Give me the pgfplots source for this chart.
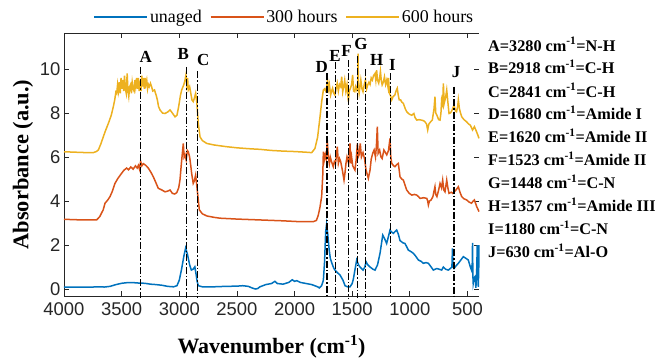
\documentclass[border=0pt]{standalone}
\usepackage{pgfplots}
\pgfplotsset{compat=1.18}
\usepackage{fontspec}
\setmainfont{Liberation Serif}
\newfontfamily\axisfont{Liberation Sans}
\definecolor{cBlue}{RGB}{0,114,189}
\definecolor{cOrange}{RGB}{217,83,25}
\definecolor{cYellow}{RGB}{237,177,32}
\definecolor{axgray}{RGB}{38,38,38}
\tikzset{ddot/.style={black, line width=1.4bp, dash pattern=on 7bp off 2bp on 1.5bp off 2bp}}
\begin{document}
\begin{tikzpicture}
\begin{axis}[
  scale only axis, width=415bp, height=263bp,
  xmin=400, xmax=4000, x dir=reverse,
  ymin=-0.318, ymax=11.64,
  xtick={500,1000,1500,2000,2500,3000,3500,4000},
  ytick={0,2,4,6,8,10},
  tick align=inside,
  major tick length=5bp,
  every tick/.style={axgray, line width=0.8bp},
  /pgf/number format/assume math mode=true,
  /pgf/number format/1000 sep={},
  ticklabel style={font=\axisfont\fontsize{18.5}{18.5}\selectfont, text=axgray},
  xticklabel style={yshift=-3bp},
  axis line style={draw=none},
  clip=false,
  xlabel={Wavenumber (cm\textsuperscript{-1})},
  xlabel style={font=\bfseries\fontsize{22}{22}\selectfont, at={(axis description cs:0.5,-0.217)}, anchor=base, inner sep=0pt},
  ylabel={Absorbance (a.u.)},
  ylabel style={font=\bfseries\fontsize{22.5}{22.5}\selectfont, at={(axis description cs:-0.099,0.5)}, anchor=center, inner sep=0pt},
  legend columns=3,
  legend style={at={(axis description cs:0.531,1.061)}, anchor=center, draw=none, fill=none,
    font=\fontsize{18}{18}\selectfont, /tikz/every even column/.append style={column sep=6bp}},
  legend image code/.code={\draw[#1] (0bp,0bp) -- (53bp,0bp);},
  every axis plot/.append style={line width=1.5bp},
]
\coordinate (bl) at (axis description cs:0,0);
\coordinate (tr) at (axis description cs:1,1);
\draw[axgray, line width=0.8bp] (axis description cs:1,1) -- (axis description cs:0,1) -- (axis description cs:0,0) -- (axis description cs:1,0);

\addplot[cBlue] coordinates {
(4000,0.08) (3900,0.09) (3800,0.08) (3700,0.1) (3650,0.09) (3600,0.12) (3550,0.2) (3500,0.26)
(3450,0.29) (3400,0.29) (3350,0.27) (3300,0.26) (3250,0.22) (3200,0.2) (3150,0.17) (3100,0.12)
(3050,0.1) (3020,0.15) (3000,0.4) (2980,0.9) (2960,1.5) (2945,1.86) (2930,1.6) (2910,1.1)
(2895,0.86) (2880,0.9) (2865,1.01) (2855,0.7) (2845,0.35) (2835,0.15) (2800,0.1) (2700,0.1)
(2600,0.12) (2500,0.13) (2450,0.15) (2400,0.12) (2370,0.05) (2340,0.0) (2320,0.02) (2300,0.1)
(2250,0.2) (2200,0.25) (2170,0.35) (2150,0.25) (2100,0.22) (2050,0.3) (2020,0.42) (2000,0.35)
(1980,0.38) (1950,0.3) (1900,0.25) (1850,0.2) (1800,0.1) (1785,0.05) (1765,0.15) (1750,0.4)
(1740,1.2) (1730,2.6) (1722,2.95) (1712,2.5) (1700,1.8) (1690,1.4) (1678,1.2) (1660,0.95)
(1649,0.86) (1630,0.75) (1606,0.64) (1580,0.4) (1562,0.15) (1540,0.1) (1519,0.1) (1500,0.25)
(1490,0.45) (1475,0.9) (1461,1.32) (1445,1.1) (1432,1.0) (1406,0.86) (1390,1.0) (1380,1.24)
(1365,1.1) (1345,1.0) (1320,0.9) (1302,0.86) (1280,1.1) (1258,1.64) (1245,2.1) (1235,2.45)
(1220,2.3) (1201,2.07) (1185,2.4) (1172,2.68) (1160,2.6) (1143,2.53) (1130,2.6) (1114,2.68)
(1100,2.5) (1085,2.2) (1060,2.1) (1042,2.07) (1025,1.9) (1013,1.77) (990,1.7) (969,1.62)
(950,1.5) (926,1.32) (900,1.25) (883,1.17) (860,1.2) (839,1.17) (815,1.0) (796,0.86)
(780,0.9) (767,0.93) (745,0.9) (724,0.86) (709,1.0) (690,0.9) (666,0.86) (645,0.95)
(635,1.0) (630,1.85) (625,1.0) (617,0.93) (600,1.05) (579,1.17) (560,1.3) (536,1.47)
(515,1.4) (493,1.32) (475,1.0) (465,0.86) (458,1.2) (456,2.1) (453,0.6) (450,0.25)
(442,0.5) (436,0.55) (430,0.3) (427,0.05) (420,0.8) (415,2.0) (410,0.6) (406,0.1)
(402,1.0) (400,2.0)
};
\addlegendentry{unaged}

\addplot[cOrange] coordinates {
(4000,3.17) (3900,3.15) (3800,3.14) (3717,3.14) (3690,3.29) (3660,3.6) (3644,3.9) (3620,4.05)
(3601,4.2) (3580,4.45) (3558,4.8) (3530,5.05) (3500,5.26) (3480,5.4) (3456,5.5) (3440,5.42)
(3420,5.55) (3400,5.45) (3380,5.6) (3365,5.5) (3355,5.62) (3345,5.45) (3335,5.8) (3325,5.6)
(3312,5.7) (3290,5.62) (3269,5.5) (3245,5.3) (3225,5.1) (3200,4.8) (3182,4.58) (3150,4.5)
(3124,4.42) (3100,4.45) (3080,4.5) (3060,4.35) (3040,4.32) (3022,4.38) (3005,4.6) (2994,4.95)
(2980,5.8) (2965,6.62) (2958,6.0) (2950,6.1) (2940,5.87) (2930,6.3) (2922,6.24) (2910,6.0)
(2900,5.6) (2893,5.27) (2879,4.8) (2870,4.9) (2858,5.18) (2850,4.8) (2840,4.3) (2826,3.6)
(2800,3.42) (2760,3.32) (2700,3.26) (2647,3.22) (2500,3.18) (2300,3.14) (2100,3.1) (1950,3.06)
(1883,3.06) (1838,3.06) (1810,3.12) (1794,3.36) (1780,3.7) (1765,4.2) (1755,5.2) (1750,6.24)
(1742,5.87) (1734,6.1) (1725,5.9) (1716,6.77) (1707,6.0) (1698,5.7) (1690,6.0) (1680,5.8)
(1664,5.56) (1655,5.79) (1645,5.7) (1636,6.1) (1629,6.47) (1620,5.71) (1610,5.93) (1600,5.8)
(1585,5.4) (1571,4.95) (1562,5.3) (1554,5.71) (1545,6.0) (1530,5.7) (1519,6.62) (1512,5.71)
(1505,6.0) (1495,5.6) (1476,5.41) (1465,5.9) (1455,6.62) (1448,6.0) (1440,6.1) (1430,6.62)
(1420,6.0) (1406,6.2) (1392,5.9) (1380,5.41) (1360,5.03) (1345,5.41) (1335,5.9) (1322,6.17)
(1310,6.32) (1298,6.0) (1290,6.5) (1282,7.38) (1275,6.17) (1262,6.32) (1250,6.0) (1240,5.93)
(1225,6.32) (1200,6.1) (1185,6.3) (1172,6.85) (1165,6.0) (1157,5.71) (1140,5.6) (1129,5.56)
(1115,5.65) (1100,5.71) (1092,5.4) (1085,5.1) (1070,5.0) (1056,4.95) (1040,4.7) (1027,4.5)
(1005,4.35) (983,4.27) (960,4.3) (940,4.27) (925,4.2) (911,4.12) (880,4.15) (853,4.12)
(845,4.0) (839,3.82) (830,4.0) (815,4.05) (800,4.2) (782,4.65) (775,4.3) (765,4.2)
(750,4.5) (738,4.8) (725,4.6) (715,4.95) (705,4.5) (695,4.42) (680,4.95) (670,4.6)
(660,4.35) (640,4.4) (628,4.35) (615,4.42) (600,4.5) (579,4.65) (565,4.4) (550,4.2)
(530,4.1) (507,4.05) (485,3.95) (465,3.9) (450,4.0) (440,4.05) (420,3.75) (400,3.52)
};
\addlegendentry{300 hours}

\addplot[cYellow] coordinates {
(4000,6.24) (3900,6.22) (3800,6.2) (3746,6.2) (3720,6.25) (3702,6.32) (3680,6.6) (3659,6.92)
(3640,7.2) (3615,7.53) (3590,7.9) (3572,8.29) (3560,8.6) (3550,8.95) (3543,8.89) (3535,9.3)
(3528,9.0) (3520,9.4) (3512,8.9) (3505,9.6) (3498,9.1) (3490,9.5) (3482,9.0) (3475,9.7)
(3468,9.1) (3460,8.9) (3452,9.8) (3445,9.0) (3438,8.75) (3430,9.2) (3422,9.3) (3415,8.9)
(3408,9.4) (3400,9.1) (3392,9.0) (3385,9.5) (3378,9.2) (3370,9.6) (3362,9.1) (3355,9.6)
(3348,9.0) (3340,9.3) (3332,9.0) (3325,9.7) (3318,9.2) (3310,9.6) (3303,9.1) (3297,9.6)
(3290,9.3) (3282,9.5) (3275,9.1) (3268,9.3) (3260,9.2) (3250,9.35) (3240,9.2) (3230,9.0)
(3215,9.05) (3200,8.8) (3190,8.6) (3180,8.3) (3167,8.14) (3145,8.0) (3124,7.98) (3100,8.05)
(3080,8.14) (3060,8.0) (3037,7.83) (3020,7.9) (3005,8.3) (2990,8.8) (2979,9.05) (2960,9.3)
(2950,9.5) (2942,9.73) (2935,9.3) (2928,9.6) (2922,9.05) (2910,9.2) (2900,8.9) (2890,8.6)
(2879,8.52) (2868,8.7) (2858,8.9) (2848,8.5) (2840,7.9) (2835,7.53) (2820,6.92) (2800,6.75)
(2762,6.62) (2700,6.55) (2589,6.47) (2500,6.42) (2400,6.38) (2300,6.35) (2200,6.3) (2100,6.27)
(2000,6.25) (1900,6.22) (1851,6.2) (1823,6.39) (1800,6.9) (1779,7.83) (1765,8.5) (1750,9.05)
(1740,9.1) (1730,9.0) (1721,9.2) (1714,9.5) (1705,9.1) (1698,9.3) (1687,8.82) (1678,9.0)
(1670,9.13) (1660,8.9) (1650,8.82) (1640,9.1) (1630,9.36) (1620,9.0) (1610,9.3) (1600,9.2)
(1591,9.65) (1582,8.97) (1574,9.2) (1565,9.5) (1555,9.0) (1545,9.3) (1533,8.52) (1525,9.0)
(1515,9.13) (1505,9.3) (1496,9.73) (1488,9.0) (1478,8.97) (1470,9.2) (1460,9.05) (1452,9.3)
(1449,10.7) (1446,9.2) (1440,8.9) (1432,9.2) (1425,9.5) (1415,9.1) (1406,8.97) (1395,9.3)
(1385,9.5) (1375,9.1) (1365,9.28) (1355,9.4) (1345,9.3) (1335,9.6) (1325,9.5) (1315,9.7)
(1302,9.8) (1295,9.5) (1288,9.95) (1280,9.5) (1270,9.36) (1262,9.6) (1255,9.9) (1248,9.5)
(1240,9.28) (1230,9.4) (1220,9.65) (1210,9.3) (1200,9.5) (1190,9.2) (1185,9.6) (1177,8.9)
(1168,8.8) (1157,8.6) (1145,8.75) (1130,8.82) (1120,9.0) (1109,9.13) (1100,8.8) (1092,8.6)
(1080,8.6) (1070,8.5) (1056,8.44) (1040,8.2) (1027,8.06) (1005,7.95) (983,7.9) (965,7.98)
(955,7.8) (940,7.68) (920,7.7) (900,7.68) (880,7.65) (868,7.6) (855,7.5) (845,7.23)
(835,7.5) (820,7.6) (805,7.68) (790,8.2) (782,8.74) (775,8.0) (765,7.9) (750,7.7)
(738,7.68) (730,8.0) (724,8.6) (715,8.4) (709,9.35) (702,8.44) (690,8.7) (680,9.05)
(670,8.5) (660,7.98) (650,8.0) (640,8.06) (628,8.2) (617,8.36) (605,8.1) (595,8.06)
(585,8.3) (579,8.6) (570,8.2) (560,8.0) (550,7.83) (530,7.7) (507,7.6) (490,7.5)
(475,7.45) (456,7.23) (440,7.38) (425,7.2) (410,7.0) (400,6.85)
};
\addlegendentry{600 hours}

% peak marker lines
\addplot[ddot, forget plot] coordinates {(3335,10.1) (3335,-0.4)};
\addplot[ddot, forget plot] coordinates {(2935,10.1) (2935,-0.4)};
\addplot[ddot, forget plot] coordinates {(2843,9.9) (2843,-0.4)};
\addplot[ddot, forget plot] coordinates {(1718,9.8) (1718,-0.4)};
\addplot[ddot, forget plot] coordinates {(1643,10.3) (1643,-0.4)};
\addplot[ddot, forget plot] coordinates {(1530,10.4) (1530,-0.4)};
\addplot[ddot, forget plot] coordinates {(1455,10.6) (1455,-0.4)};
\addplot[ddot, forget plot] coordinates {(1383,10.0) (1383,-0.4)};
\addplot[ddot, forget plot] coordinates {(1166,9.8) (1166,-0.4)};
\addplot[ddot, forget plot] coordinates {(617,9.2) (617,-0.4)};

% peak letters
\begin{scope}[every node/.style={font=\bfseries\fontsize{17}{17}\selectfont, anchor=base, inner sep=0pt}]
\node at (axis cs:3291,10.29) {A};
\node at (axis cs:2965,10.44) {B};
\node at (axis cs:2792,10.18) {C};
\node at (axis cs:1765,9.83) {D};
\node at (axis cs:1649,10.33) {E};
\node at (axis cs:1548,10.56) {F};
\node at (axis cs:1423,10.91) {G};
\node at (axis cs:1287,10.14) {H};
\node at (axis cs:1152,9.95) {I};
\node at (axis cs:599,9.6) {J};
\end{scope}

% assignment list
\begin{scope}[every node/.style={font=\bfseries\fontsize{16.3}{16.3}\selectfont, anchor=base west, inner sep=0pt}]
\node at (axis cs:322,10.82) {A=3280 cm\textsuperscript{-1}=N-H};
\node at (axis cs:322,9.78) {B=2918 cm\textsuperscript{-1}=C-H};
\node at (axis cs:322,8.73) {C=2841 cm\textsuperscript{-1}=C-H};
\node at (axis cs:322,7.69) {D=1680 cm\textsuperscript{-1}=Amide I};
\node at (axis cs:322,6.64) {E=1620 cm\textsuperscript{-1}=Amide II};
\node at (axis cs:322,5.60) {F=1523 cm\textsuperscript{-1}=Amide II};
\node at (axis cs:322,4.55) {G=1448 cm\textsuperscript{-1}=C-N};
\node at (axis cs:322,3.51) {H=1357 cm\textsuperscript{-1}=Amide III};
\node at (axis cs:322,2.47) {I=1180 cm\textsuperscript{-1}=C-N};
\node at (axis cs:322,1.42) {J=630 cm\textsuperscript{-1}=Al-O};
\end{scope}
\end{axis}
\pgfresetboundingbox
\path[use as bounding box] ([shift={(-64bp,-62bp)}]bl) rectangle ([shift={(182bp,33bp)}]tr);
\end{tikzpicture}
\end{document}
